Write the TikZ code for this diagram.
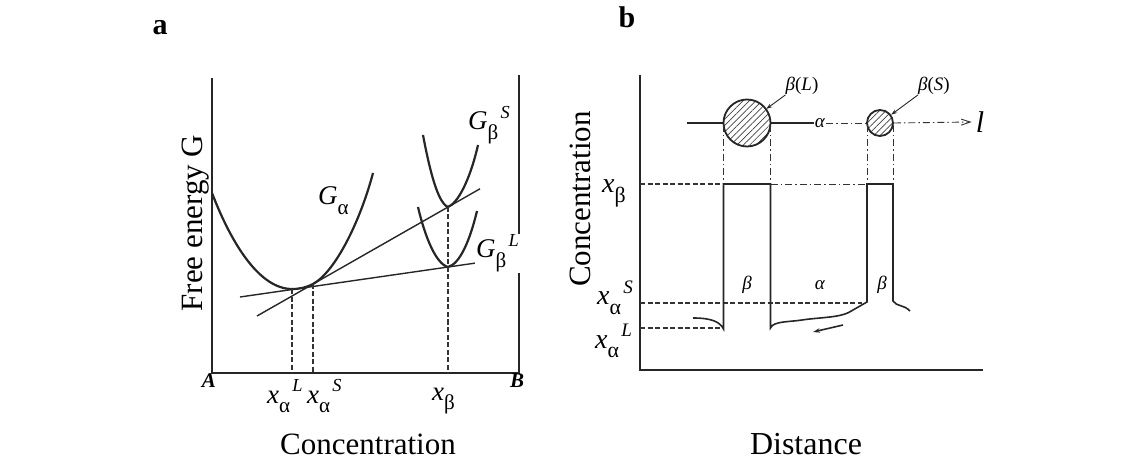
\documentclass[tikz,border=0pt]{standalone}
\usepackage{fontspec}
\setmainfont{Liberation Serif}
\usetikzlibrary{arrows.meta,patterns.meta}

\newcommand{\varlbl}[3]{\textit{#1}\raisebox{-0.34em}{\scalebox{0.78}{#2}}\kern0.08em\raisebox{0.42em}{\scalebox{0.68}{\textit{#3}}}}

\begin{document}
\begin{tikzpicture}[x=1pt,y=-1pt,
  axis/.style={line width=2.2pt,black!85},
  curve/.style={line width=2.2pt,black!85},
  tangent/.style={line width=1.4pt,black!85},
  profile/.style={line width=1.6pt,black!85},
  guide/.style={line width=1.2pt,black!80,dash pattern=on 5pt off 2.5pt},
  chain/.style={line width=0.9pt,black!80,dash pattern=on 7pt off 3pt on 1.5pt off 3pt},
  lbl/.style={font=\fontsize{27}{30}\selectfont,inner sep=0pt,anchor=base west},
  title/.style={font=\fontsize{31}{34}\selectfont,inner sep=0pt,anchor=base},
  panel/.style={font=\fontsize{30}{32}\selectfont\bfseries,inner sep=0pt,anchor=base},
  small/.style={font=\fontsize{19}{21}\selectfont,inner sep=0pt},
  particle/.style={circle,draw,line width=1.8pt,black!85,inner sep=0pt,
                   pattern={Lines[angle=45,distance=4.5pt,line width=0.7pt]},pattern color=black!75}]

\useasboundingbox (0,0) rectangle (1143,462);

\node[panel] (pa) at (160,35) {a};
\node[panel] (pb) at (627,28) {b};

\draw[axis] (212,78) -- (212,373) -- (519,373) -- (519,75);
\draw[curve] (212,193) .. controls (232,245) and (260,289) .. (292,289)
  .. controls (300,289) and (306,287.5) .. (313,284)
  .. controls (335,272) and (360,222) .. (373,173);
\draw[curve] (423,135) .. controls (430,172) and (438,203) .. (448,207)
  .. controls (458,203) and (470,180) .. (478,145);
\draw[curve] (418,207) .. controls (425,237) and (436,264) .. (448,267)
  .. controls (460,264) and (470,240) .. (477,211);
\draw[tangent] (240,297) -- (487,261.4);
\draw[tangent] (257,316) -- (480,188.8);
\foreach \x/\y in {292/289.5,313/284,448/207}
  \draw[guide] (\x,\y) -- (\x,373);

\node[lbl] (ga) at (318,205) {\varlbl{G}{α}{}};
\node[lbl] (gbs) at (468,130) {\varlbl{G}{β}{S}};
\node[lbl,fill=white,inner sep=1pt] (gbl) at (475,258) {\varlbl{G}{β}{L}};
\node[lbl] (xal) at (267,403) {\varlbl{x}{α}{L}};
\node[lbl] (xas) at (307,403) {\varlbl{x}{α}{S}};
\node[lbl] (xb) at (432,400) {\varlbl{x}{β}{}};
\node[font=\fontsize{21}{23}\selectfont\itshape\bfseries,inner sep=0pt] (ca) at (209,381) {A};
\node[font=\fontsize{21}{23}\selectfont\itshape\bfseries,inner sep=0pt] (cb) at (517,381) {B};
\node[title,rotate=90] (ylab) at (202,223) {Free energy G};
\node[title] (xlab) at (368,454) {Concentration};

\draw[axis] (640,75) -- (640,370) -- (983,370);
\node[particle,minimum size=47pt] (bigL) at (747,123) {};
\node[particle,minimum size=26pt] (smallS) at (880,123) {};
\node[small,fill=white,inner sep=1pt] (lalpha) at (820,123) {\textit{α}};
\node[font=\fontsize{30}{32}\selectfont\itshape,inner sep=0pt] (lend) at (980,122) {l};
\coordinate (lstart) at (687,123);
\draw[line width=1.1pt,black!85] (lstart) -- (bigL.west);
\draw[line width=1.1pt,black!85] (bigL.east) -- (lalpha.west);
\draw[chain] (lalpha.east) -- (smallS.west);
\draw[chain,-{Straight Barb[length=9pt,width=6pt]}] (smallS.east) -- ([xshift=-4pt]lend.west);

\node[small] (nbL) at (802,86) {\textit{β}(\textit{L})};
\node[small] (nbS) at (934,86) {\textit{β}(\textit{S})};
\draw[line width=0.9pt,black!85,-{Stealth[length=6pt,width=4pt]}] (nbL.south west) -- (bigL);
\draw[line width=0.9pt,black!85,-{Stealth[length=6pt,width=4pt]}] (nbS.south west) -- (smallS);

\foreach \x in {723.5,770.5,867,893}
  \draw[chain] (\x,125) -- (\x,184);
\draw[guide] (640,184) -- (723.5,184);
\draw[chain] (770.5,184) -- (867,184);
\draw[guide] (640,303) -- (862,303);
\draw[guide] (640,328) -- (721,328);

\draw[profile] (693,318) .. controls (712,318) and (720,322) .. (723.5,329)
  -- (723.5,184) -- (770.5,184) -- (770.5,328)
  .. controls (773,321) and (790,322) .. (802,320)
  .. controls (822,317) and (842,318) .. (853,310) -- (867,302)
  -- (867,184) -- (893,184) -- (893,301)
  .. controls (897,307) and (903,304) .. (910,311);
\coordinate (flowa) at (843,325);
\coordinate (flowb) at (813,332);
\draw[profile,-{Stealth[length=7pt,width=4.5pt]}] (flowa) -- (flowb);

\node[small] (pb1) at (747,285) {\textit{β}};
\node[small] (pa1) at (820,285) {\textit{α}};
\node[small] (pb2) at (882,285) {\textit{β}};

\node[lbl,font=\fontsize{28}{30}\selectfont] (rxb) at (602,193) {\varlbl{x}{β}{}};
\node[lbl,font=\fontsize{28}{30}\selectfont] (rxas) at (597,305) {\varlbl{x}{α}{S}};
\node[lbl,font=\fontsize{28}{30}\selectfont] (rxal) at (595,348) {\varlbl{x}{α}{L}};
\node[title,rotate=90] (rylab) at (590,199) {Concentration};
\node[title,font=\fontsize{32}{34}\selectfont] (rxlab) at (806,454) {Distance};
\end{tikzpicture}
\end{document}
